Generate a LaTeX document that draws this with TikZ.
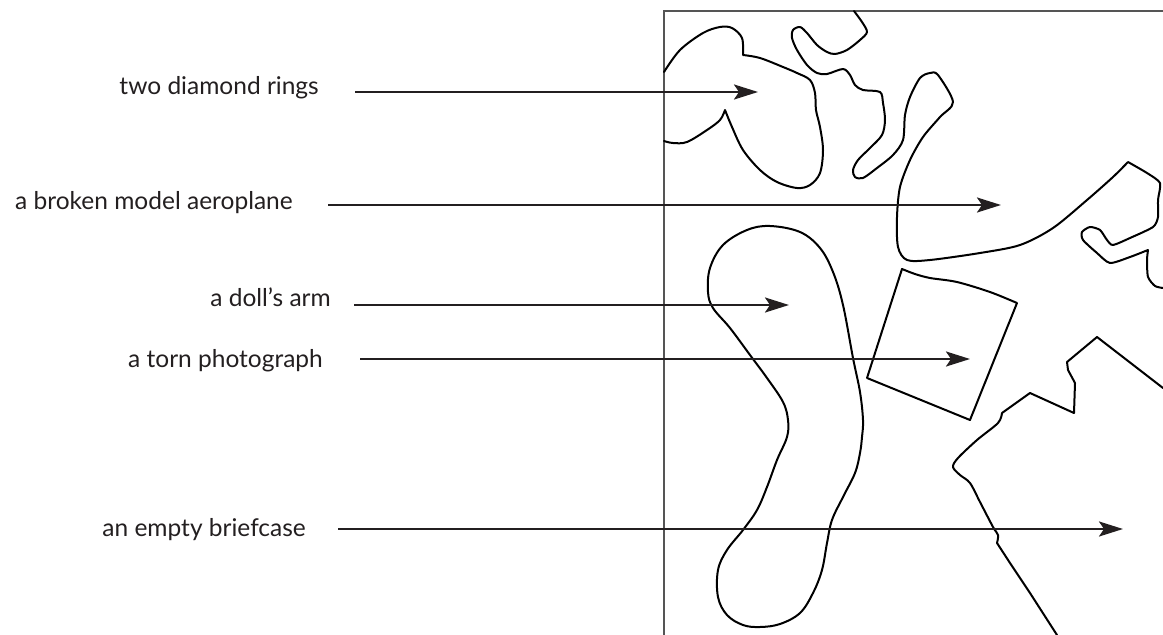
\documentclass[tikz,border=0pt]{standalone}
\usepackage{fontspec}
\setmainfont{Lato}
\usetikzlibrary{arrows.meta}
\definecolor{ink}{HTML}{231F20}
\definecolor{framegray}{HTML}{555555}
\tikzset{
  lbl/.style={anchor=base east, inner sep=0pt, text=ink, font=\fontsize{24.5}{28}\selectfont},
  arr/.style={draw=ink, line width=2.4pt, -{Stealth[length=24pt,width=15pt,inset=5pt]}},
  outline/.style={draw=black, line width=2pt, line join=round, line cap=round},
  frameline/.style={draw=framegray, line width=1.3pt}
}
\begin{document}
\begin{tikzpicture}[x=1pt,y=-1pt]
\useasboundingbox (0,0) rectangle (1163,635);
% frame
\draw[frameline] (664,635) -- (664,11) -- (1163,11);

% shape A (upper left blob)
\draw[outline] plot[smooth,tension=0.55] coordinates {(664,72) (680,50) (703,33) (720,27) (732,28) (742,38) (743,55)}
  plot[smooth,tension=0.55] coordinates {(743,55) (760,58) (783,67) (797,73) (810,80) (815,93) (816,110) (820,127) (823,150) (820,173) (810,185) (797,188) (777,182) (760,170) (743,150) (732,127) (725,110)}
  plot[smooth,tension=0.55] coordinates {(725,110) (720,120) (707,130) (687,142) (673,143) (664,141)};

% shape B (long squiggle from top to right edge)
\draw[outline] plot[smooth,tension=0.5] coordinates {(854,11) (862,22) (867,32) (860,40) (847,50) (835,54) (827,52) (817,45) (807,33) (800,27) (793,30) (792,38) (797,50) (807,65) (817,73) (827,74) (843,69) (850,75) (855,85) (863,90) (880,92) (883,103) (885,120) (882,135) (870,148) (858,160) (853,170) (855,177) (863,178) (877,168) (893,155) (903,140) (905,115) (910,97) (920,78) (930,73) (938,75) (953,102) (940,117) (923,137) (910,160) (900,187) (897,217) (898,247) (907,260) (930,260) (980,253) (1020,245) (1053,228) (1087,200) (1113,177) (1128,162)}
  plot[smooth,tension=0.4] coordinates {(1128,162) (1147,173) (1160,183) (1158,200) (1158,217) (1153,227) (1130,238) (1113,245) (1107,240) (1100,230) (1090,227) (1082,232) (1083,240) (1097,253) (1110,263) (1130,257) (1148,250)}
  plot[smooth,tension=0.4] coordinates {(1148,250) (1147,260) (1148,277) (1155,286) (1163,288)};

% shape C (doll's arm)
\draw[outline] plot[smooth cycle,tension=0.6] coordinates {(770,226) (800,232) (820,248) (833,272) (843,305) (853,358) (860,392) (863,420) (862,437) (860,453) (855,473) (843,497) (832,520) (827,543) (822,570) (813,593) (800,613) (780,624) (760,627) (743,625) (727,615) (718,597) (718,570) (727,550) (743,530) (757,510) (767,487) (777,460) (787,437) (788,420) (783,402) (767,378) (750,355) (730,328) (713,308) (708,292) (710,268) (723,245) (747,230)};

% shape D (torn photograph)
\draw[outline] plot[smooth,tension=0.5] coordinates {(902,269) (915,274) (930,278) (957,282) (990,292) (1017,303)} -- (970,420) -- (867,378) -- cycle;

% shape E (lower right)
\draw[outline] (1163,388) -- (1097,337) -- (1067,362) -- (1068,370) -- (1075,383) -- (1074,413) -- (1030,393) -- (1002,413)
  plot[smooth,tension=0.5] coordinates {(1002,413) (998,423) (977,440) (958,458) (953,467) (960,475) (970,483) (980,502) (993,527) (998,535) (997,543)}
  -- (1010,563) -- (1030,593) -- (1057,635);

% labels
\node[lbl] (t1) at (319,94) {two diamond rings};
\node[lbl] (t2) at (293,209) {a broken model aeroplane};
\node[lbl] (t3) at (331,306) {a doll’s arm};
\node[lbl] (t4) at (323,367) {a torn photograph};
\node[lbl] (t5) at (306,536) {an empty briefcase};

% arrow coordinates
\coordinate (s1) at (355,92);  \coordinate (e1) at (758,92);
\coordinate (s2) at (328,205); \coordinate (e2) at (1001,205);
\coordinate (s3) at (354,305); \coordinate (e3) at (789,305);
\coordinate (s4) at (360,359); \coordinate (e4) at (970,359);
\coordinate (s5) at (338,529); \coordinate (e5) at (1123,529);
\draw[arr] (s1) -- (e1);
\draw[arr] (s2) -- (e2);
\draw[arr] (s3) -- (e3);
\draw[arr] (s4) -- (e4);
\draw[arr] (s5) -- (e5);
\end{tikzpicture}
\end{document}
